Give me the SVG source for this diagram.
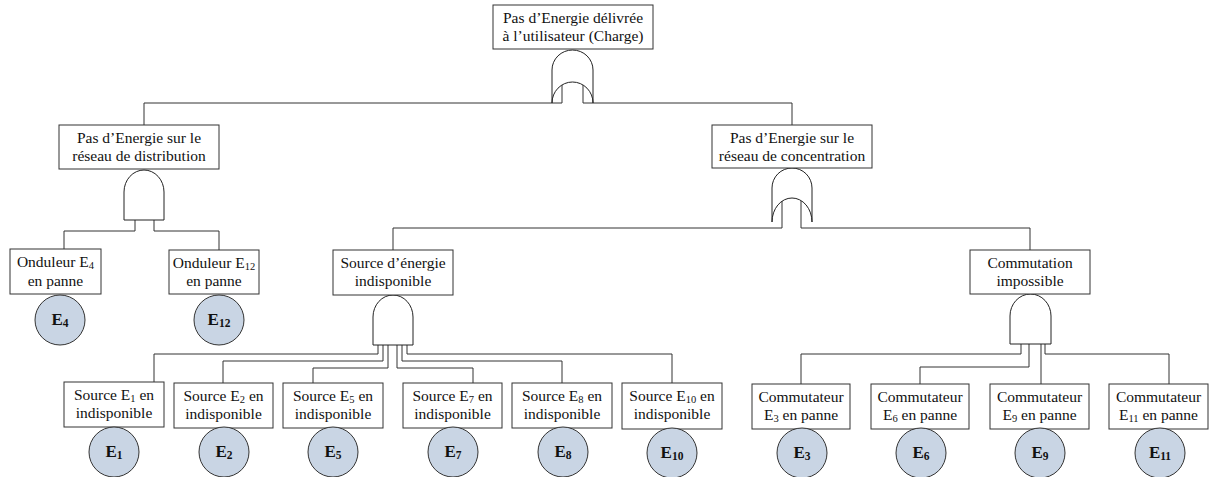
<svg xmlns="http://www.w3.org/2000/svg" width="1209" height="477" viewBox="0 0 1209 477">
<style>
.box{fill:#fff;stroke:#333;stroke-width:1}
.gate{fill:#fff;stroke:#222;stroke-width:1}
.ev{fill:#c9d5e4;stroke:#333;stroke-width:1}
.t{font-family:"Liberation Serif","Times New Roman",serif;font-size:15.5px;fill:#111;text-anchor:middle}
.c{font-family:"Liberation Serif","Times New Roman",serif;font-size:17px;font-weight:bold;fill:#111;text-anchor:middle}
.s{font-size:10.5px}
.cs{font-size:11.5px}
.con{fill:none;stroke:#333;stroke-width:1}
</style>
<rect width="1209" height="477" fill="#fff"/>
<g id="connectors">
<polyline class="con" points="562,85 562,103 144,103 144,125"/>
<polyline class="con" points="583,85 583,103 792,103 792,125"/>
<polyline class="con" points="135,220 135,231 64,231 64,249"/>
<polyline class="con" points="154,220 154,231 219,231 219,250"/>
<polyline class="con" points="782,201 782,228 393,228 393,250"/>
<polyline class="con" points="801,201 801,228 1030,228 1030,250"/>
<polyline class="con" points="378,345 378,354 154,354 154,382"/>
<polyline class="con" points="383,345 383,361 223,361 223,383"/>
<polyline class="con" points="388,345 388,368 313,368 313,383"/>
<polyline class="con" points="397,345 397,368 473,368 473,383"/>
<polyline class="con" points="402,345 402,361 562,361 562,383"/>
<polyline class="con" points="407,345 407,354 672,354 672,383"/>
<polyline class="con" points="1021,344 1021,354 801,354 801,384"/>
<polyline class="con" points="1029,344 1029,367 920,367 920,384"/>
<polyline class="con" points="1041,344 1041,384"/>
<polyline class="con" points="1045,344 1045,354 1169,354 1169,384"/>
</g>
<g id="gates">
<path id="g_top" class="gate" d="M552,103 L552,70 A20.5,20 0 0 1 593,70 L593,103 A20.5,21 0 0 0 552,103 Z"/>
<path id="g_dist" class="gate" d="M124,220 L124,192 A20,22 0 0 1 164,192 L164,220 Z"/>
<path id="g_conc" class="gate" d="M772,222 L772,188 A20,20 0 0 1 812,188 L812,222 A20,24 0 0 0 772,222 Z"/>
<path id="g_src" class="gate" d="M373,345 L373,317 A20,22 0 0 1 413,317 L413,345 Z"/>
<path id="g_com" class="gate" d="M1010,344 L1010,316 A20.5,22 0 0 1 1051,316 L1051,344 Z"/>
</g>
<g id="n_top"><rect class="box" x="493" y="5" width="160" height="44"/>
<text class="t" x="573" y="23">Pas d’Energie délivrée</text><text class="t" x="573" y="41">à l’utilisateur (Charge)</text></g>
<g id="n_dist"><rect class="box" x="59" y="125" width="160" height="44"/>
<text class="t" x="139" y="143">Pas d’Energie sur le</text><text class="t" x="139" y="161">réseau de distribution</text></g>
<g id="n_conc"><rect class="box" x="712" y="125" width="160" height="43"/>
<text class="t" x="792" y="143">Pas d’Energie sur le</text><text class="t" x="792" y="161">réseau de concentration</text></g>
<g id="n_ond4"><rect class="box" x="10" y="249" width="91" height="45"/>
<text class="t" x="55.5" y="267">Onduleur E<tspan class="s" dy="2">4</tspan></text><text class="t" x="55.5" y="286">en panne</text></g>
<g id="n_ond12"><rect class="box" x="169" y="250" width="90" height="44"/>
<text class="t" x="214" y="268">Onduleur E<tspan class="s" dy="2">12</tspan></text><text class="t" x="214" y="286">en panne</text></g>
<g id="n_src"><rect class="box" x="333" y="250" width="120" height="45"/>
<text class="t" x="393" y="268">Source d’énergie</text><text class="t" x="393" y="286">indisponible</text></g>
<g id="n_com"><rect class="box" x="970" y="250" width="120" height="44"/>
<text class="t" x="1030" y="268">Commutation</text><text class="t" x="1030" y="286">impossible</text></g>
<g id="n_s1"><rect class="box" x="64" y="382" width="100" height="45"/>
<text class="t" x="114" y="400">Source E<tspan class="s" dy="2">1</tspan><tspan dy="-2"> en</tspan></text><text class="t" x="114" y="418">indisponible</text></g>
<g id="n_s2"><rect class="box" x="174" y="383" width="99" height="45"/>
<text class="t" x="223.5" y="401">Source E<tspan class="s" dy="2">2</tspan><tspan dy="-2"> en</tspan></text><text class="t" x="223.5" y="419">indisponible</text></g>
<g id="n_s5"><rect class="box" x="283" y="383" width="100" height="45"/>
<text class="t" x="333" y="401">Source E<tspan class="s" dy="2">5</tspan><tspan dy="-2"> en</tspan></text><text class="t" x="333" y="419">indisponible</text></g>
<g id="n_s7"><rect class="box" x="403" y="383" width="99" height="45"/>
<text class="t" x="452.5" y="401">Source E<tspan class="s" dy="2">7</tspan><tspan dy="-2"> en</tspan></text><text class="t" x="452.5" y="419">indisponible</text></g>
<g id="n_s8"><rect class="box" x="512" y="383" width="100" height="45"/>
<text class="t" x="562" y="401">Source E<tspan class="s" dy="2">8</tspan><tspan dy="-2"> en</tspan></text><text class="t" x="562" y="419">indisponible</text></g>
<g id="n_s10"><rect class="box" x="622" y="383" width="100" height="46"/>
<text class="t" x="672" y="401">Source E<tspan class="s" dy="2">10</tspan><tspan dy="-2"> en</tspan></text><text class="t" x="672" y="419">indisponible</text></g>
<g id="n_c3"><rect class="box" x="752" y="384" width="98" height="45"/>
<text class="t" x="801" y="402">Commutateur</text><text class="t" x="801" y="420">E<tspan class="s" dy="2">3</tspan><tspan dy="-2"> en panne</tspan></text></g>
<g id="n_c6"><rect class="box" x="871" y="384" width="98" height="45"/>
<text class="t" x="920" y="402">Commutateur</text><text class="t" x="920" y="420">E<tspan class="s" dy="2">6</tspan><tspan dy="-2"> en panne</tspan></text></g>
<g id="n_c9"><rect class="box" x="990" y="384" width="99" height="45"/>
<text class="t" x="1039.5" y="402">Commutateur</text><text class="t" x="1039.5" y="420">E<tspan class="s" dy="2">9</tspan><tspan dy="-2"> en panne</tspan></text></g>
<g id="n_c11"><rect class="box" x="1109" y="384" width="99" height="45"/>
<text class="t" x="1158.5" y="402">Commutateur</text><text class="t" x="1158.5" y="420">E<tspan class="s" dy="2">11</tspan><tspan dy="-2"> en panne</tspan></text></g>
<g id="e4"><circle class="ev" cx="60" cy="320" r="25"/><text class="c" x="60" y="325">E<tspan class="cs" dy="2">4</tspan></text></g>
<g id="e12"><circle class="ev" cx="219" cy="320" r="25"/><text class="c" x="219" y="325">E<tspan class="cs" dy="2">12</tspan></text></g>
<g id="e1"><circle class="ev" cx="114" cy="452" r="25"/><text class="c" x="114" y="457">E<tspan class="cs" dy="2">1</tspan></text></g>
<g id="e2"><circle class="ev" cx="224" cy="452" r="25"/><text class="c" x="224" y="457">E<tspan class="cs" dy="2">2</tspan></text></g>
<g id="e5"><circle class="ev" cx="333" cy="452" r="25"/><text class="c" x="333" y="457">E<tspan class="cs" dy="2">5</tspan></text></g>
<g id="e7"><circle class="ev" cx="453" cy="452" r="25"/><text class="c" x="453" y="457">E<tspan class="cs" dy="2">7</tspan></text></g>
<g id="e8"><circle class="ev" cx="563" cy="452" r="25"/><text class="c" x="563" y="457">E<tspan class="cs" dy="2">8</tspan></text></g>
<g id="e10"><circle class="ev" cx="672" cy="453" r="25"/><text class="c" x="672" y="458">E<tspan class="cs" dy="2">10</tspan></text></g>
<g id="e3"><circle class="ev" cx="802" cy="453" r="25"/><text class="c" x="802" y="458">E<tspan class="cs" dy="2">3</tspan></text></g>
<g id="e6"><circle class="ev" cx="921" cy="453" r="25"/><text class="c" x="921" y="458">E<tspan class="cs" dy="2">6</tspan></text></g>
<g id="e9"><circle class="ev" cx="1040" cy="453" r="25"/><text class="c" x="1040" y="458">E<tspan class="cs" dy="2">9</tspan></text></g>
<g id="e11"><circle class="ev" cx="1160" cy="453" r="25"/><text class="c" x="1160" y="458">E<tspan class="cs" dy="2">11</tspan></text></g>
</svg>
